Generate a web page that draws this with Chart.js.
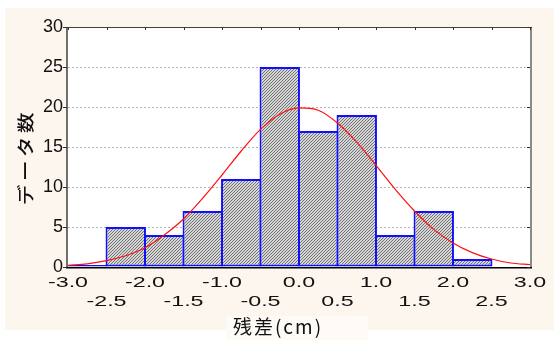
<!DOCTYPE html>
<html>
<head>
<meta charset="utf-8">
<script src="https://cdn.jsdelivr.net/npm/chart.js@4/dist/chart.umd.min.js"></script>
<style>
  html, body { margin: 0; padding: 0; background: #ffffff; }
  #wrap { width: 554px; height: 340px; position: relative; }
</style>
</head>
<body>
<div id="wrap"><canvas id="hist" width="554" height="340"></canvas></div>
<script>
// Histogram of residuals (0.5 cm bins) with fitted normal curve
const binCenters = [-2.75, -2.25, -1.75, -1.25, -0.75, -0.25, 0.25, 0.75, 1.25, 1.75, 2.25];
const binCounts  = [0, 5, 4, 7, 11, 25, 17, 19, 4, 7, 1];

const curveX = [-3.0, -2.75, -2.5, -2.25, -2.0, -1.75, -1.5, -1.25, -1.0, -0.75, -0.5, -0.25,
                0.0, 0.25, 0.5, 0.75, 1.0, 1.25, 1.5, 1.75, 2.0, 2.25, 2.5, 2.75, 3.0];
const curveY = [0.2, 0.4, 0.8, 1.4, 2.4, 4.0, 6.0, 8.6, 11.5, 14.5, 17.2, 19.1,
                19.9, 19.6, 18.0, 15.6, 12.7, 9.7, 7.0, 4.7, 3.0, 1.8, 1.0, 0.5, 0.3];

const xTickLabels = ['-3.0', '-2.5', '-2.0', '-1.5', '-1.0', '-0.5', '0.0', '0.5', '1.0', '1.5', '2.0', '2.5', '3.0'];
const yTickLabels = ['0', '5', '10', '15', '20', '25', '30'];

const xTitle = '残差(cm)';
const yTitle = 'データ数';

const xTickValues = xTickLabels.map(Number);
const yTickValues = yTickLabels.map(Number);

// fine diagonal hatch used to fill the bars
function makeHatch() {
  const t = document.createElement('canvas');
  t.width = 3; t.height = 3;
  const g = t.getContext('2d');
  g.fillStyle = '#d6d6d6';
  g.fillRect(0, 0, 3, 3);
  g.fillStyle = '#727272';
  for (let i = 0; i < 3; i++) g.fillRect(i, 2 - i, 1, 1);
  return g.createPattern(t, 'repeat');
}

const pageBg = 'rgb(253,246,239)';

const framePlugin = {
  id: 'frame',
  beforeDraw(chart) {
    const ctx = chart.ctx;
    const a = chart.chartArea;
    ctx.save();
    ctx.fillStyle = '#ffffff';
    ctx.fillRect(0, 0, chart.width, chart.height);
    ctx.fillStyle = pageBg;
    ctx.fillRect(5, 8, chart.width - 5, 322);
    ctx.fillStyle = 'rgb(254,250,246)';
    ctx.fillRect(226, 316, 142, 24);
    ctx.fillStyle = '#ffffff';
    ctx.fillRect(a.left, a.top, a.right - a.left, a.bottom - a.top);
    ctx.restore();
  },
  afterDraw(chart) {
    const ctx = chart.ctx;
    const a = chart.chartArea;
    const xs = chart.scales.x;
    const ys = chart.scales.y;
    ctx.save();

    // frame
    ctx.lineWidth = 2;
    ctx.strokeStyle = '#6e6e6e';
    ctx.beginPath(); ctx.moveTo(a.left - 1, a.top); ctx.lineTo(a.left - 1, a.bottom + 1); ctx.stroke();
    ctx.strokeStyle = '#8a8a8a';
    ctx.beginPath(); ctx.moveTo(a.right + 1, a.top); ctx.lineTo(a.right + 1, a.bottom + 1); ctx.stroke();
    ctx.lineWidth = 1;
    ctx.strokeStyle = '#404040';
    ctx.beginPath(); ctx.moveTo(a.left - 2, a.top + 0.5); ctx.lineTo(a.right + 2, a.top + 0.5); ctx.stroke();
    ctx.lineWidth = 1.5;
    ctx.strokeStyle = '#000000';
    ctx.beginPath(); ctx.moveTo(a.left - 2, a.bottom + 0.75); ctx.lineTo(a.right + 2, a.bottom + 0.75); ctx.stroke();

    // tick marks: top edge (x), left and right edges (y)
    ctx.lineWidth = 1;
    ctx.strokeStyle = '#303030';
    xTickValues.forEach(v => {
      const px = Math.round(xs.getPixelForValue(v)) + 0.5;
      ctx.beginPath(); ctx.moveTo(px, a.top); ctx.lineTo(px, a.top + 3); ctx.stroke();
    });
    yTickValues.forEach(v => {
      const py = Math.round(ys.getPixelForValue(v)) + 0.5;
      ctx.beginPath(); ctx.moveTo(a.left - 5, py); ctx.lineTo(a.left - 1, py); ctx.stroke();
      ctx.beginPath(); ctx.moveTo(a.right, py); ctx.lineTo(a.right - 3, py); ctx.stroke();
    });

    // x tick labels in two staggered rows
    ctx.fillStyle = '#111111';
    ctx.font = '15px "Liberation Sans", Arial, sans-serif';
    ctx.textAlign = 'center';
    ctx.textBaseline = 'middle';
    xTickLabels.forEach((lab, i) => {
      const px = xs.getPixelForValue(xTickValues[i]);
      const py = (i % 2 === 0) ? 283 : 302;
      ctx.save();
      ctx.translate(px, py);
      ctx.scale(1.55, 1);
      ctx.fillText(lab, 0, 0);
      ctx.restore();
    });

    // axis titles
    ctx.fillStyle = '#111111';
    ctx.font = '19px "Noto Sans CJK JP", sans-serif';
    ctx.letterSpacing = '2px';
    ctx.textAlign = 'center';
    ctx.textBaseline = 'middle';
    ctx.fillText(xTitle, 278, 327);

    ctx.save();
    ctx.translate(26, 157);
    ctx.rotate(-Math.PI / 2);
    ctx.scale(1.2, 1);
    ctx.font = '500 17px "Noto Sans CJK JP", sans-serif';
    ctx.letterSpacing = '3px';
    ctx.fillText(yTitle, 0, 0);
    ctx.restore();

    ctx.restore();
  }
};

const ctx = document.getElementById('hist').getContext('2d');
new Chart(ctx, {
  type: 'bar',
  data: {
    datasets: [
      {
        type: 'line',
        data: curveX.map((x, i) => ({ x: x, y: curveY[i] })),
        borderColor: '#ff1010',
        borderWidth: 1.2,
        pointRadius: 0,
        tension: 0.4,
        cubicInterpolationMode: 'monotone',
        fill: false,
        order: 0
      },
      {
        type: 'bar',
        data: binCenters.map((x, i) => ({ x: x, y: binCounts[i] })),
        backgroundColor: makeHatch(),
        borderColor: '#1010ff',
        borderWidth: 2,
        borderSkipped: false,
        barPercentage: 1.05,
        categoryPercentage: 1,
        minBarLength: 2,
        order: 1
      }
    ]
  },
  options: {
    responsive: false,
    animation: false,
    devicePixelRatio: 1,
    layout: { padding: { left: 0, right: 24, top: 27, bottom: 0 } },
    plugins: {
      legend: { display: false },
      tooltip: { enabled: false },
      title: { display: false }
    },
    scales: {
      x: {
        type: 'linear',
        min: -3,
        max: 3,
        offset: false,
        ticks: { display: false, stepSize: 0.5 },
        grid: { display: false, offset: false },
        border: { display: false },
        afterFit(s) { s.height = 73; }
      },
      y: {
        type: 'linear',
        min: 0,
        max: 30,
        ticks: {
          stepSize: 5,
          padding: 5,
          color: '#111111',
          font: { family: '"Liberation Sans", Arial, sans-serif', size: 18 },
          callback: (v) => yTickLabels[yTickValues.indexOf(v)] ?? ''
        },
        grid: { color: '#b4b4b4', lineWidth: 1, drawTicks: false },
        border: { display: false, dash: [2, 2] },
        afterFit(s) { s.width = 68; }
      }
    }
  },
  plugins: [framePlugin]
});
</script>
</body>
</html>
